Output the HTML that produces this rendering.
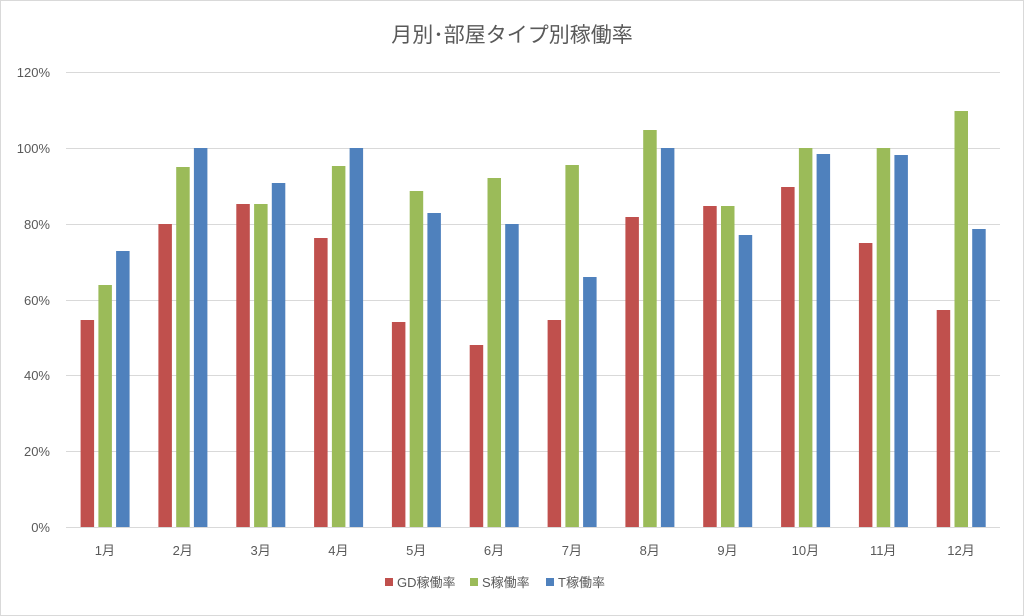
<!DOCTYPE html>
<html><head><meta charset="utf-8"><style>
html,body{margin:0;padding:0;background:#fff}
svg{display:block;font-family:"Liberation Sans","Noto Sans CJK JP",sans-serif}
</style></head><body>
<svg width="1024" height="616" viewBox="0 0 1024 616" xmlns="http://www.w3.org/2000/svg">
<rect x="0.5" y="0.5" width="1023" height="615" fill="#fff" stroke="#d9d9d9"/>
<text x="512" y="42" font-size="21" fill="#595959" text-anchor="middle">月別･部屋タイプ別稼働率</text>
<g stroke="#d9d9d9" stroke-width="1">
<line x1="66" x2="1000" y1="72.5" y2="72.5"/>
<line x1="66" x2="1000" y1="148.5" y2="148.5"/>
<line x1="66" x2="1000" y1="224.5" y2="224.5"/>
<line x1="66" x2="1000" y1="300.5" y2="300.5"/>
<line x1="66" x2="1000" y1="375.5" y2="375.5"/>
<line x1="66" x2="1000" y1="451.5" y2="451.5"/>
<line x1="66" x2="1000" y1="527.5" y2="527.5"/>
</g>
<g font-size="13" fill="#595959" text-anchor="end">
<text x="50" y="77">120%</text><text x="50" y="153">100%</text><text x="50" y="229">80%</text>
<text x="50" y="305">60%</text><text x="50" y="380">40%</text><text x="50" y="456">20%</text><text x="50" y="532">0%</text>
</g>
<g fill="#c0504d">
<rect x="80.6" y="320" width="13.5" height="207"/>
<rect x="158.4" y="224" width="13.5" height="303"/>
<rect x="236.3" y="204" width="13.5" height="323"/>
<rect x="314.1" y="238" width="13.5" height="289"/>
<rect x="391.9" y="322" width="13.5" height="205"/>
<rect x="469.7" y="345" width="13.5" height="182"/>
<rect x="547.6" y="320" width="13.5" height="207"/>
<rect x="625.4" y="217" width="13.5" height="310"/>
<rect x="703.2" y="206" width="13.5" height="321"/>
<rect x="781.1" y="187" width="13.5" height="340"/>
<rect x="858.9" y="243" width="13.5" height="284"/>
<rect x="936.7" y="310" width="13.5" height="217"/>
</g>
<g fill="#9bbb59">
<rect x="98.4" y="285" width="13.5" height="242"/>
<rect x="176.2" y="167" width="13.5" height="360"/>
<rect x="254.1" y="204" width="13.5" height="323"/>
<rect x="331.9" y="166" width="13.5" height="361"/>
<rect x="409.7" y="191" width="13.5" height="336"/>
<rect x="487.5" y="178" width="13.5" height="349"/>
<rect x="565.4" y="165" width="13.5" height="362"/>
<rect x="643.2" y="130" width="13.5" height="397"/>
<rect x="721.0" y="206" width="13.5" height="321"/>
<rect x="798.9" y="148" width="13.5" height="379"/>
<rect x="876.7" y="148" width="13.5" height="379"/>
<rect x="954.5" y="111" width="13.5" height="416"/>
</g>
<g fill="#4f81bd">
<rect x="116.1" y="251" width="13.5" height="276"/>
<rect x="193.9" y="148" width="13.5" height="379"/>
<rect x="271.8" y="183" width="13.5" height="344"/>
<rect x="349.6" y="148" width="13.5" height="379"/>
<rect x="427.4" y="213" width="13.5" height="314"/>
<rect x="505.2" y="224" width="13.5" height="303"/>
<rect x="583.1" y="277" width="13.5" height="250"/>
<rect x="660.9" y="148" width="13.5" height="379"/>
<rect x="738.7" y="235" width="13.5" height="292"/>
<rect x="816.6" y="154" width="13.5" height="373"/>
<rect x="894.4" y="155" width="13.5" height="372"/>
<rect x="972.2" y="229" width="13.5" height="298"/>
</g>
<g font-size="13" fill="#595959" text-anchor="middle">
<text x="104.9" y="555">1月</text><text x="182.7" y="555">2月</text><text x="260.6" y="555">3月</text>
<text x="338.4" y="555">4月</text><text x="416.2" y="555">5月</text><text x="494.0" y="555">6月</text>
<text x="571.9" y="555">7月</text><text x="649.7" y="555">8月</text><text x="727.5" y="555">9月</text>
<text x="805.4" y="555">10月</text><text x="883.2" y="555">11月</text><text x="961.0" y="555">12月</text>
</g>
<g font-size="13" fill="#595959">
<rect x="385" y="578" width="8" height="8" fill="#c0504d"/><text x="397" y="587">GD稼働率</text>
<rect x="470" y="578" width="8" height="8" fill="#9bbb59"/><text x="482" y="587">S稼働率</text>
<rect x="546" y="578" width="8" height="8" fill="#4f81bd"/><text x="558" y="587">T稼働率</text>
</g>
</svg>
</body></html>
